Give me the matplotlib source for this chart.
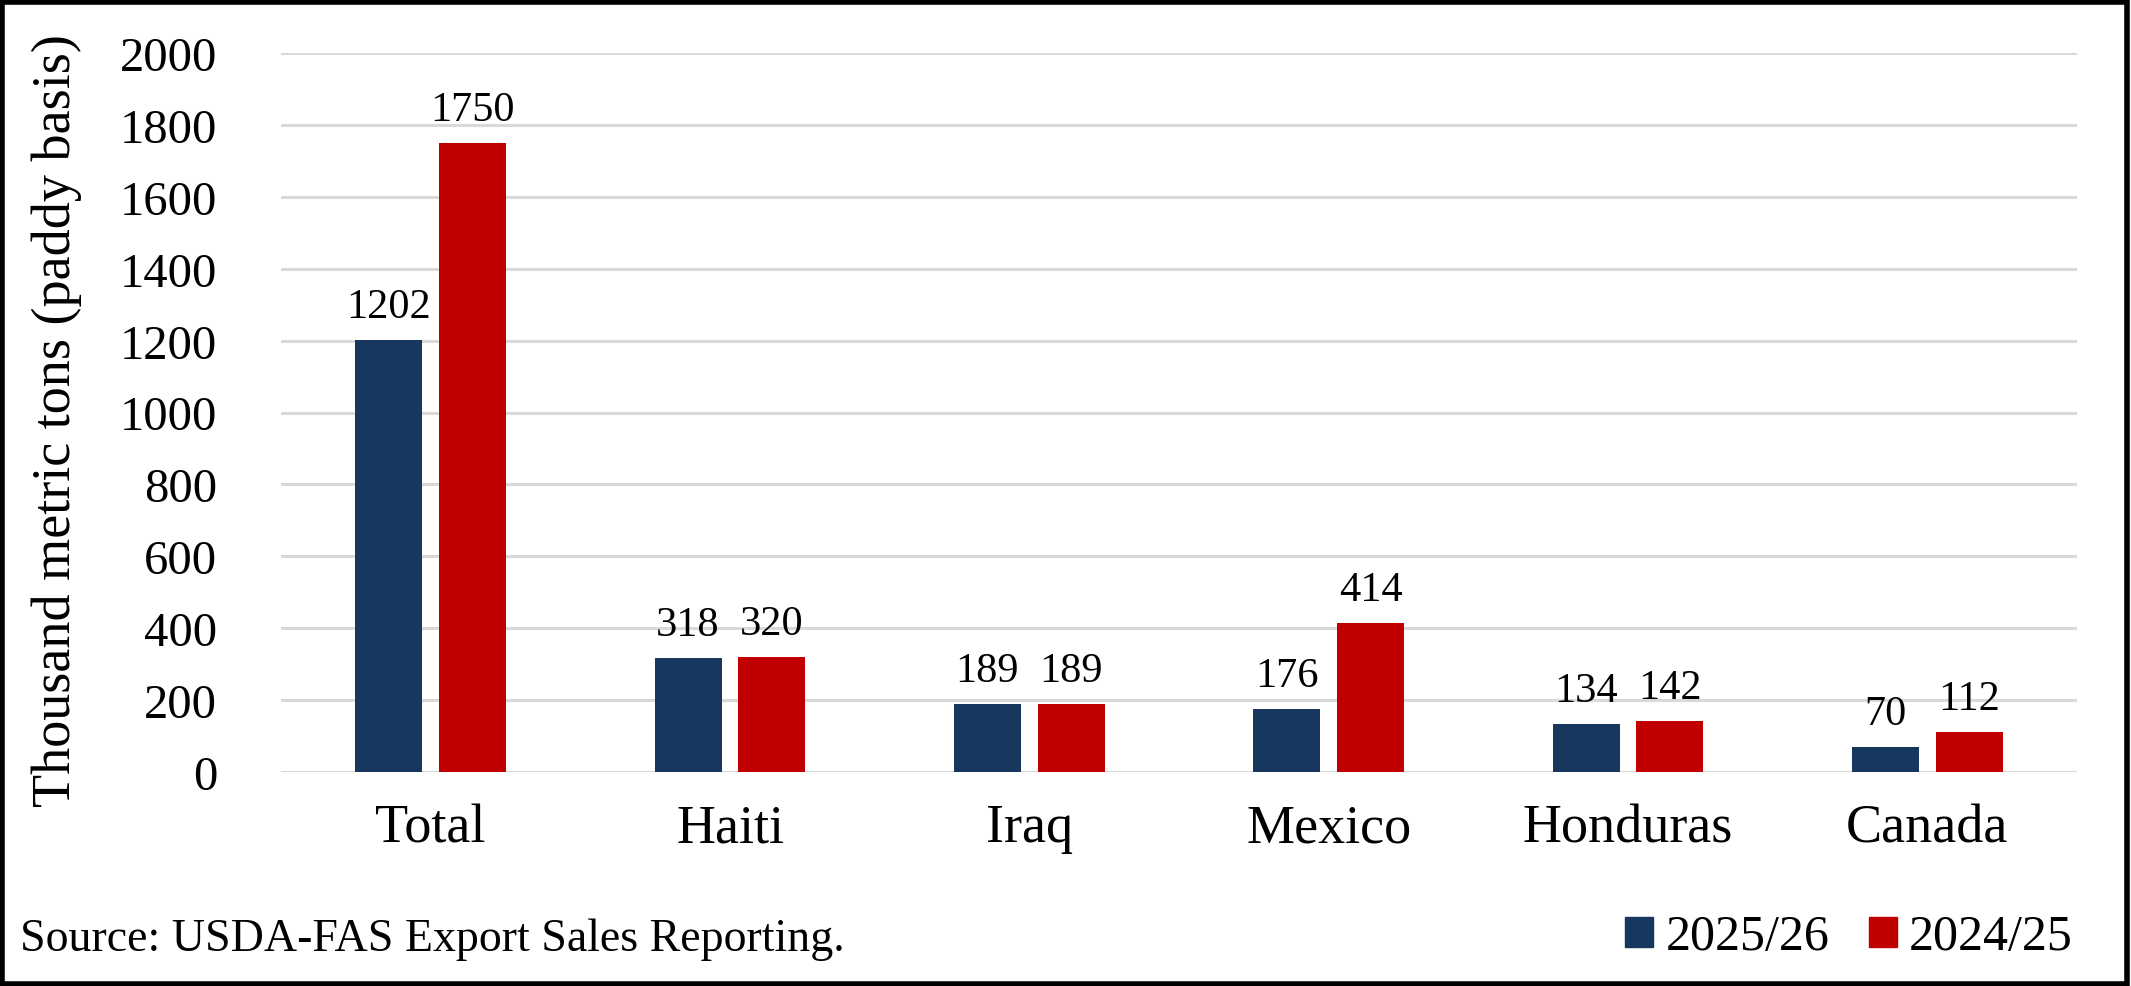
import matplotlib
matplotlib.use('Agg')
import matplotlib.pyplot as plt
import numpy as np
from matplotlib.patches import Rectangle, Patch

# data
categories = ['Total', 'Haiti', 'Iraq', 'Mexico', 'Honduras', 'Canada']
sales_2025_26 = [1202, 318, 189, 176, 134, 70]
sales_2024_25 = [1750, 320, 189, 414, 142, 112]
series_names = ['2025/26', '2024/25']
yticks = [0, 200, 400, 600, 800, 1000, 1200, 1400, 1600, 1800, 2000]

blue = '#17375e'
red = '#c00000'
grid_col = '#d9d9d9'

plt.rcParams['font.family'] = ['Liberation Serif', 'DejaVu Serif']

fig = plt.figure(figsize=(21.31, 9.87), dpi=100)
ax = fig.add_axes([281/2131, 1-773/987, (2077-281)/2131, (773-54)/987])

x = np.arange(len(categories))
w = 0.224
off = 0.14
b1 = ax.bar(x - off, sales_2025_26, w, color=blue, zorder=3)
b2 = ax.bar(x + off, sales_2024_25, w, color=red, zorder=3)

# value labels over each bar
for bars in (b1, b2):
    for r in bars:
        ax.annotate(f'{int(r.get_height())}', (r.get_x() + r.get_width()/2, r.get_height()),
                    xytext=(0, 10), textcoords='offset points', ha='center', va='bottom',
                    fontsize=30.5)

ax.set_ylim(0, 2000)
ax.set_xlim(-0.5, len(categories) - 0.5)
ax.set_yticks(yticks)
ax.set_yticklabels([str(t) for t in yticks], fontsize=35)
ax.set_xticks(x)
ax.set_xticklabels(categories, fontsize=39)
ax.tick_params(axis='both', length=0)
ax.tick_params(axis='y', pad=46)
ax.tick_params(axis='x', pad=22)
ax.yaxis.grid(True, color=grid_col, linewidth=2.2, zorder=0)
ax.set_axisbelow(True)
for s in ax.spines.values():
    s.set_visible(False)
ax.set_ylabel('Thousand metric tons (paddy basis)', fontsize=39)
ax.yaxis.set_label_coords(-0.111, 0.49)

fig.text(20/2131, 1-940/987, 'Source: USDA-FAS Export Sales Reporting.', fontsize=33,
         ha='left', va='center')

handles = [Patch(color=blue, label=series_names[0]), Patch(color=red, label=series_names[1])]
fig.legend(handles=handles, loc='center right', bbox_to_anchor=(2093/2131, 1-938/987),
           ncol=2, frameon=False, fontsize=36, handlelength=0.55, handleheight=0.55,
           handletextpad=0.25, columnspacing=0.8, borderaxespad=0)

fig.patches.append(Rectangle((0.001, 0.002), 0.997, 0.995, transform=fig.transFigure,
                             fill=False, edgecolor='black', linewidth=4))

fig.savefig('out.png', dpi=100)
